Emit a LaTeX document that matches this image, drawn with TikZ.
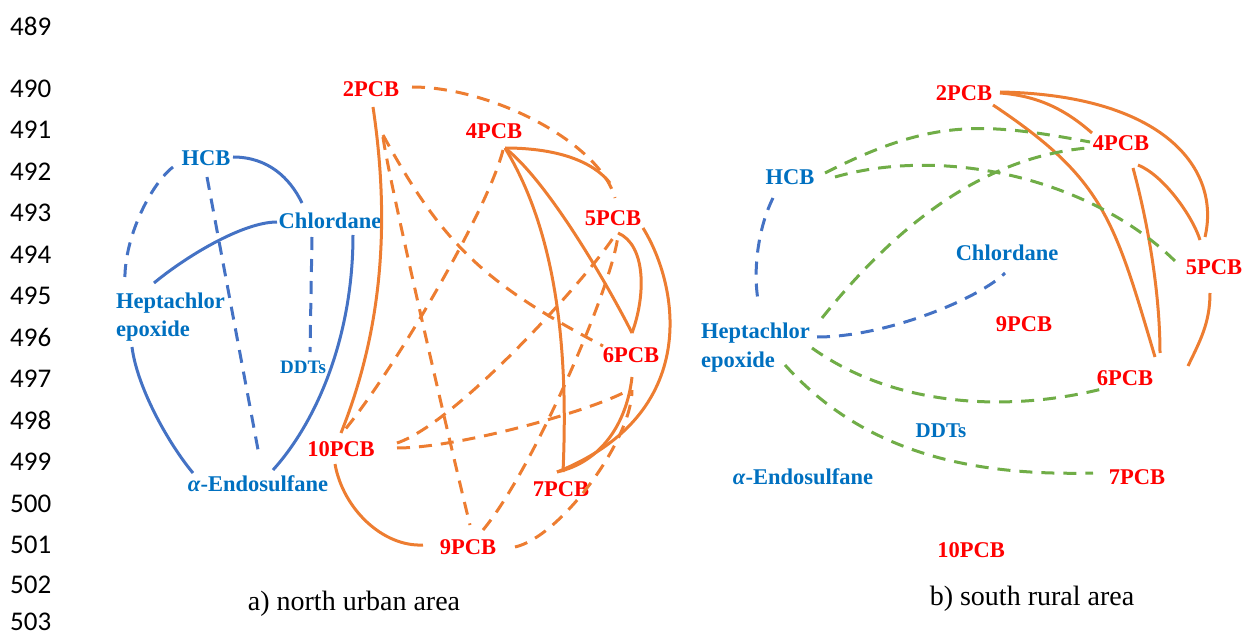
\documentclass[tikz,border=0pt]{standalone}
\usepackage{fontspec}
\setmainfont{Liberation Serif}
\newfontfamily\lnfont{Carlito}
\definecolor{txtblue}{HTML}{0070C0}
\definecolor{lnblue}{HTML}{4472C4}
\definecolor{orng}{HTML}{ED7D31}
\definecolor{grn}{HTML}{70AD47}
\begin{document}
\begin{tikzpicture}[x=1pt,y=-1pt,
  pcb/.style={text=red, font=\bfseries\fontsize{22.5}{28}\selectfont, inner sep=0pt},
  org/.style={text=txtblue, font=\bfseries\fontsize{22.5}{28}\selectfont, inner sep=0pt},
  captxt/.style={font=\fontsize{28}{32}\selectfont, inner sep=0pt},
  lnum/.style={font=\lnfont\fontsize{27}{30}\selectfont, inner sep=0pt, anchor=west},
  sol/.style={line width=3pt},
  dsh/.style={line width=3pt, dash pattern=on 13pt off 9pt},
  bl/.style={lnblue},
  orl/.style={orng},
  gl/.style={grn}]
\useasboundingbox (0,0) rectangle (1248,639);

% line numbers
\foreach \n/\yy in {489/26.5,490/89,491/130,492/171.5,493/213,494/254.5,495/296,496/337.5,497/379,498/420.5,499/462,500/503.5,501/545,502/585,503/622}
  \node[lnum] (ln\n) at (10,\yy) {\n};

% ---------- left panel nodes ----------
\node[pcb] (L2) at (371,89) {2PCB};
\node[pcb] (L4) at (494,131) {4PCB};
\node[pcb] (L5) at (613,218) {5PCB};
\node[pcb] (L6) at (631,355) {6PCB};
\node[pcb] (L7) at (561,489) {7PCB};
\node[pcb] (L9) at (468,547) {9PCB};
\node[pcb] (L10) at (341,449) {10PCB};
\node[org] (LH) at (206,158) {HCB};
\node[org] (LC) at (330,221) {Chlordane};
\node[org, align=left, anchor=west] (LE) at (116,317) {Heptachlor\\epoxide};
\node[org, font=\bfseries\fontsize{19}{22}\selectfont] (LD) at (303,367) {DDTs};
\node[org] (LA) at (258,484) {\textit{α}-Endosulfane};

% left blue edges
\draw[bl,dsh] ([shift={(-33,9)}]LH.center) .. controls +(-23,18) and +(-2,-43) .. ([shift={(9,-34)}]LE.west);
\draw[bl,dsh] ([shift={(1,19)}]LH.center) -- ([shift={(1,-29)}]LA.center);
\draw[bl,sol] ([shift={(27,-1)}]LH.center) .. controls +(35,0) and +(-12,-25) .. ([shift={(-28,-18)}]LC.center);
\draw[bl,sol] ([shift={(38,-34)}]LE.west) .. controls +(30,-25) and +(-35,0) .. ([shift={(-53,1)}]LC.center);
\draw[bl,dsh] ([shift={(-18,16)}]LC.center) -- ([shift={(7,-15)}]LD.center);
\draw[bl,sol] ([shift={(23,14)}]LC.center) .. controls +(0,100) and +(45,-50) .. ([shift={(15,-14)}]LA.center);
\draw[bl,sol] ([shift={(16,30)}]LE.west) .. controls +(5,40) and +(-25,-30) .. ([shift={(-65,-11)}]LA.center);

% left orange solid edges
\draw[orl,sol] ([shift={(2,18)}]L2.center) .. controls +(18,120) and +(40,-100) .. ([shift={(0,-16)}]L10.center);
\draw[orl,sol] ([shift={(11,17)}]L4.center) .. controls +(45,0) and +(-20,-25) .. ([shift={(-3,-35)}]L5.center);
\draw[orl,sol] ([shift={(11,17)}]L4.center) .. controls +(45,35) and +(-20,-40) .. ([shift={(1,-22)}]L6.center);
\draw[orl,sol] ([shift={(11,17)}]L4.center) .. controls +(55,90) and +(5,-110) .. ([shift={(2,-17)}]L7.center);
\draw[orl,sol] ([shift={(5,15)}]L5.center) .. controls +(28,12) and +(14,-38) .. ([shift={(1,-22)}]L6.center);
\draw[orl,sol] ([shift={(30,10)}]L5.center) .. controls +(36,58) and +(145,-58) .. ([shift={(-4,-17)}]L7.center);
\draw[orl,sol] ([shift={(1,22)}]L6.center) .. controls +(-5,45) and +(45,-10) .. ([shift={(-4,-17)}]L7.center);
\draw[orl,sol] ([shift={(-6,15)}]L10.center) .. controls +(8,45) and +(-40,2) .. ([shift={(-45,-2)}]L9.center);

% left orange dashed edges
\draw[orl,dsh] ([shift={(41,-2)}]L2.center) .. controls +(80,0) and +(-15,-55) .. ([shift={(2,-20)}]L5.center);
\draw[orl,dsh] ([shift={(12,46)}]L2.center) .. controls +(59,108) and +(-120,-63) .. ([shift={(-28,-9)}]L6.center);
\draw[orl,dsh] ([shift={(12,48)}]L2.center) .. controls +(5,40) and +(-15,-60) .. ([shift={(2,-22)}]L9.center);
\draw[orl,dsh] ([shift={(9,19)}]L4.center) .. controls +(-15,60) and +(50,-60) .. ([shift={(2,-17)}]L10.center);
\draw[orl,dsh] ([shift={(56,-6)}]L10.center) .. controls +(60,-20) and +(-25,40) .. ([shift={(2,17)}]L5.center);
\draw[orl,dsh] ([shift={(56,-1)}]L10.center) .. controls +(60,0) and +(-40,20) .. ([shift={(-8,38)}]L6.center);
\draw[orl,dsh] ([shift={(15,-17)}]L9.center) .. controls +(50,-60) and +(-5,50) .. ([shift={(5,17)}]L5.center);
\draw[orl,dsh] ([shift={(47,0)}]L9.center) .. controls +(45,-10) and +(0,50) .. ([shift={(1,35)}]L6.center);

% ---------- right panel nodes ----------
\node[pcb] (R2) at (964,93) {2PCB};
\node[pcb] (R4) at (1121,143) {4PCB};
\node[pcb] (R5) at (1214,267) {5PCB};
\node[pcb] (R9) at (1024,324) {9PCB};
\node[pcb] (R6) at (1125,378) {6PCB};
\node[pcb] (R7) at (1137,477) {7PCB};
\node[pcb] (R10) at (971,550) {10PCB};
\node[org] (RH) at (790,177) {HCB};
\node[org] (RC) at (1007,253) {Chlordane};
\node[org, align=left, anchor=west, font=\bfseries\fontsize{22.5}{29}\selectfont] (RE) at (701,348) {Heptachlor\\epoxide};
\node[org, font=\bfseries\fontsize{21}{24}\selectfont] (RD) at (941,431) {DDTs};
\node[org] (RA) at (803,477) {\textit{α}-Endosulfane};

% right orange solid edges
\draw[orl,sol] ([shift={(36,0)}]R2.center) .. controls +(40,3) and +(-25,-22) .. ([shift={(-29,-10)}]R4.center);
\draw[orl,sol] ([shift={(36,-1)}]R2.center) .. controls +(164,3) and +(16,-68) .. ([shift={(-9,-30)}]R5.center);
\draw[orl,sol] ([shift={(29,12)}]R2.center) .. controls +(111,74) and +(-41,-138) .. ([shift={(30,-21)}]R6.center);
\draw[orl,sol] ([shift={(17,22)}]R4.center) .. controls +(25,10) and +(-8,-25) .. ([shift={(-14,-27)}]R5.center);
\draw[orl,sol] ([shift={(12,25)}]R4.center) .. controls +(15,55) and +(0,-60) .. ([shift={(35,-25)}]R6.center);
\draw[orl,sol] ([shift={(-4,26)}]R5.center) .. controls +(0,30) and +(12,-25) .. ([shift={(63,-12)}]R6.center);

% right green dashed edges
\draw[gl,dsh] ([shift={(35,-4)}]RH.center) .. controls +(105,-53) and +(-112,-21) .. ([shift={(-31,-1)}]R4.center);
\draw[gl,dsh] ([shift={(45,0)}]RH.center) .. controls +(112,-32) and +(-83,-83) .. ([shift={(-37,-4)}]R5.center);
\draw[gl,dsh] ([shift={(121,-30)}]RE.west) .. controls +(70,-87) and +(-109,10) .. ([shift={(-34,5)}]R4.center);
\draw[gl,dsh] ([shift={(111,0)}]RE.west) .. controls +(81,58) and +(-97,24) .. ([shift={(-23,11)}]R6.center);
\draw[gl,dsh] ([shift={(84,17)}]RE.west) .. controls +(81,90) and +(-117,3) .. ([shift={(-44,-4)}]R7.center);

% right blue dashed edges
\draw[bl,dsh] ([shift={(-17,21)}]RH.center) .. controls +(-15,30) and +(-5,-30) .. ([shift={(57,-48)}]RE.west);
\draw[bl,dsh] ([shift={(116,-11)}]RE.west) .. controls +(70,0) and +(-25,25) .. ([shift={(-2,20)}]RC.center);

% captions
\node[captxt] (ca) at (354,604) {a) north urban area};
\node[captxt] (cb) at (1032,599) {b) south rural area};
\end{tikzpicture}
\end{document}
